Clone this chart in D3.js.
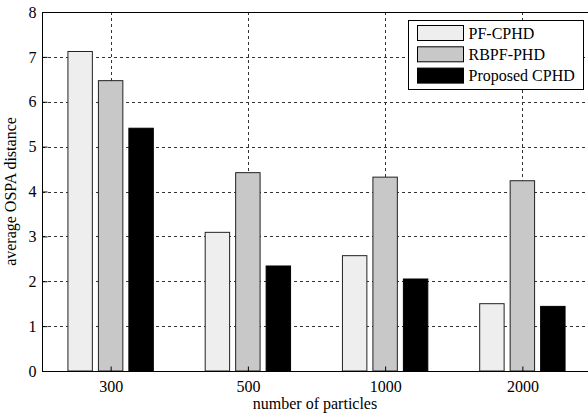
<!DOCTYPE html>
<html>
<head>
<meta charset="utf-8">
<script src="https://cdn.jsdelivr.net/npm/d3@7"></script>
<style>
  body { margin: 0; background: #fff; }
  text { font-family: "Liberation Serif", "DejaVu Serif", serif; }
</style>
</head>
<body>
<div id="chart"></div>
<script>
const particles = ["300", "500", "1000", "2000"];
const seriesNames = ["PF-CPHD", "RBPF-PHD", "Proposed CPHD"];
const pfCphd = [7.12, 3.09, 2.57, 1.50];
const rbpfPhd = [6.47, 4.42, 4.32, 4.24];
const proposedCphd = [5.41, 2.34, 2.05, 1.44];
const yTicks = [0, 1, 2, 3, 4, 5, 6, 7, 8];
const fills = ["#eeeeee", "#c8c8c8", "#000000"];

const width = 588, height = 416;
const mLeft = 42, mRight = 589, mTop = 12, mBottom = 371;

const svg = d3.select("#chart").append("svg")
  .attr("width", width).attr("height", height);

// axes run slightly past the window on the right, as in the original figure
const x = d3.scaleLinear().domain([0.5, 4.5]).range([mLeft, 591]);
const y = d3.scaleLinear().domain([0, 8]).range([mBottom, mTop]);

// grid
svg.append("g").attr("stroke", "#333").attr("stroke-dasharray", "3,3").attr("stroke-width", 1)
  .selectAll("line.h").data(yTicks.slice(1, -1)).join("line")
  .attr("x1", mLeft).attr("x2", mRight)
  .attr("y1", d => Math.round(y(d)) + 0.5).attr("y2", d => Math.round(y(d)) + 0.5);
svg.append("g").attr("stroke", "#333").attr("stroke-dasharray", "3,3").attr("stroke-width", 1)
  .selectAll("line.v").data(particles).join("line")
  .attr("x1", (d, i) => Math.round(x(i + 1)) + 0.5).attr("x2", (d, i) => Math.round(x(i + 1)) + 0.5)
  .attr("y1", mTop).attr("y2", mBottom);

// bars (matlab-like grouped layout)
const series = [pfCphd, rbpfPhd, proposedCphd];
const slot = 0.222, barW = 0.178;
series.forEach((vals, s) => {
  svg.append("g")
    .selectAll("rect").data(vals).join("rect")
    .attr("x", (d, i) => x(i + 1 + (s - 1) * slot - barW / 2))
    .attr("width", x(barW) - x(0))
    .attr("y", d => y(d))
    .attr("height", d => y(0) - y(d))
    .attr("fill", fills[s])
    .attr("stroke", s === 2 ? "#000" : "#222")
    .attr("stroke-width", 1);
});

// axes box
svg.append("rect").attr("x", mLeft + 0.5).attr("y", mTop + 0.5)
  .attr("width", mRight - mLeft).attr("height", mBottom - mTop)
  .attr("fill", "none").attr("stroke", "#000").attr("stroke-width", 1);

const yAxis = d3.axisLeft(y).tickValues(yTicks).tickSize(-5).tickPadding(6).tickFormat(d3.format("d"));
svg.append("g").attr("transform", `translate(${mLeft + 0.5},0)`).call(yAxis)
  .call(g => g.select(".domain").remove())
  .call(g => g.selectAll("text").attr("font-size", 16).attr("fill", "#000").attr("font-family", "Liberation Serif"));

const xAxis = d3.axisBottom(x).tickValues([1, 2, 3, 4]).tickSize(-5).tickPadding(9)
  .tickFormat((d) => particles[d - 1]);
svg.append("g").attr("transform", `translate(0,${mBottom + 0.5})`).call(xAxis)
  .call(g => g.select(".domain").remove())
  .call(g => g.selectAll("text").attr("font-size", 16).attr("fill", "#000").attr("font-family", "Liberation Serif"));

svg.append("text").attr("x", 315).attr("y", 409)
  .attr("text-anchor", "middle").attr("font-size", 16).text("number of particles");

svg.append("text").attr("transform", `translate(16,${(mTop + mBottom) / 2}) rotate(-90)`)
  .attr("text-anchor", "middle").attr("font-size", 16).text("average OSPA distance");

// legend
const lg = svg.append("g");
lg.append("rect").attr("x", 408.5).attr("y", 20.5).attr("width", 175).attr("height", 69)
  .attr("fill", "#fff").attr("stroke", "#000");
seriesNames.forEach((name, i) => {
  const yy = 25 + i * 21.3;
  lg.append("rect").attr("x", 417.5).attr("y", yy + 0.5).attr("width", 46).attr("height", 15)
    .attr("fill", fills[i]).attr("stroke", "#000");
  lg.append("text").attr("x", 468.5).attr("y", yy + 13.5).attr("font-size", 16).text(name);
});
</script>
</body>
</html>
